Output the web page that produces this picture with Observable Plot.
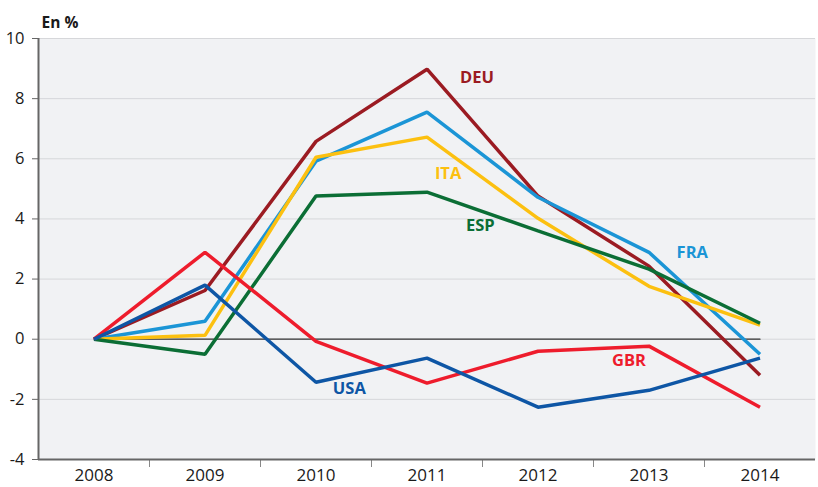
<!DOCTYPE html>
<html><head><meta charset="utf-8">
<script src="https://cdn.jsdelivr.net/npm/d3@7"></script>
<script src="https://cdn.jsdelivr.net/npm/@observablehq/plot@0.6"></script>
<style>body{margin:0;background:#fff}#chart{width:818px;height:487px}</style>
</head><body><div id="chart"></div>
<script>
const years = [2008, 2009, 2010, 2011, 2012, 2013, 2014];
const DEU = [0, 1.62, 6.58, 8.98, 4.76, 2.43, -1.2];
const FRA = [0, 0.6, 5.92, 7.55, 4.72, 2.89, -0.5];
const ITA = [0, 0.13, 6.05, 6.72, 4.02, 1.76, 0.47];
const ESP = [0, -0.5, 4.76, 4.89, 3.6, 2.33, 0.53];
const GBR = [0, 2.89, -0.07, -1.46, -0.4, -0.23, -2.26];
const USA = [0, 1.8, -1.43, -0.63, -2.26, -1.7, -0.63];
const countries = ["DEU", "FRA", "ITA", "ESP", "GBR", "USA"];
const seriesValues = {DEU, FRA, ITA, ESP, GBR, USA};
const colors = ["#9b1b22", "#1b95d6", "#fcc010", "#0b6e35", "#ee1c2c", "#0e56a5"];
const yTicks = [-4, -2, 0, 2, 4, 6, 8, 10];
const labelYear = [2011.45, 2013.39, 2011.19, 2011.48, 2012.82, 2010.30];
const labelValue = [8.68, 2.89, 5.49, 3.79, -0.73, -1.66];
const unitLabel = "En %";

const rows = countries.flatMap(c => years.map((y, i) => ({country: c, year: y, value: seriesValues[c][i]})));
const labels = countries.map((c, i) => ({country: c, year: labelYear[i], value: labelValue[i]}));
const between = years.slice(0, -1).map(y => y + 0.5);
const colorOf = Object.fromEntries(countries.map((c, i) => [c, colors[i]]));

const chart = Plot.plot({
  width: 818, height: 487,
  marginLeft: 38, marginRight: 3, marginTop: 38, marginBottom: 28,
  style: {fontFamily: "'Open Sans', sans-serif", fontSize: "16px", color: "#1a1a1a", background: "#fff"},
  x: {type: "linear", domain: [years[0] - 0.5, years[years.length - 1] + 0.5]},
  y: {domain: [yTicks[0], yTicks[yTicks.length - 1]]},
  marks: [
    Plot.frame({fill: "#f1f2f4", stroke: null}),
    Plot.gridY(yTicks, {stroke: "#d6d7da", strokeOpacity: 1, strokeWidth: 1}),
    Plot.lineY([years[0], years[years.length - 1]], {x: d => d, y: () => 0, stroke: "#333", strokeWidth: 1.2}),
    Plot.axisY(yTicks, {tickSize: 6, tickPadding: 8, stroke: "#666", fontSize: 16.5, tickFormat: d => String(d), label: null}),
    Plot.axisX(years, {tickSize: 0, tickPadding: 9, tickFormat: d => String(d), fontSize: 17, label: null}),
    Plot.axisX(between, {tickSize: 8, tickFormat: () => "", stroke: "#888", label: null}),
    Plot.ruleX([years[0] - 0.5], {stroke: "#666", strokeWidth: 2}),
    Plot.ruleY([yTicks[0]], {stroke: "#666", strokeWidth: 2}),
    Plot.line(rows, {x: "year", y: "value", z: "country", stroke: d => colorOf[d.country], strokeWidth: 3.5, strokeLinejoin: "miter", strokeLinecap: "butt"}),
    Plot.text(labels, {x: "year", y: "value", text: "country", fill: d => colorOf[d.country], fontWeight: "bold", fontSize: 16.5}),
    Plot.text([unitLabel], {frameAnchor: "top-left", text: d => d, dx: 3, dy: -22, fontWeight: "bold", fontSize: 15.5, textAnchor: "start"})
  ]
});
document.getElementById("chart").append(chart);
</script></body></html>
